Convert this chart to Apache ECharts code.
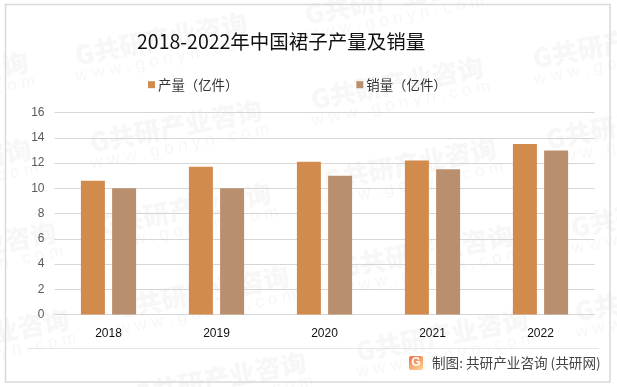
<!DOCTYPE html>
<html><head><meta charset="utf-8">
<style>html,body{margin:0;padding:0;background:#fff}#c{width:617px;height:387px}</style>
<script src="https://cdn.jsdelivr.net/npm/echarts@6/dist/echarts.min.js"></script></head>
<body><div id="c"></div>
<script>
const categories=['2018','2019','2020','2021','2022'];
const outputValues=[10.6,11.7,12.1,12.2,13.5];
const salesValues=[10,10,11,11.5,13];
const titleText='2018-2022年中国裙子产量及销量';
const sourceText='制图: 共研产业咨询 (共研网)';
const wmCentres=[[161,39],[176,126],[185,209],[203,292],[220,378],[391,-2],[397,83],[410,164],[427,251],[442,335],[619,42],[632,123],[657,211],[661,295],[-58,78],[-55,165],[-30,248],[-17,335]];
const font='"Noto Sans CJK SC","Liberation Sans",sans-serif';
const wm=[];
wmCentres.forEach(p=>{
  wm.push({type:'group',x:p[0],y:p[1],rotation:11*Math.PI/180,silent:true,z:-1,children:[
    {type:'text',style:{text:'G共研产业咨询',x:0,y:0,align:'center',verticalAlign:'middle',font:'900 26px '+font,fill:'#f7f7f7'}},
    {type:'text',style:{text:'w w w . g o n y n . c o m',x:0,y:21,align:'center',verticalAlign:'middle',font:'17px "Liberation Sans"',fill:'#f7f7f7'}}
  ]});
});
const chart=echarts.init(document.getElementById('c'),null,{renderer:'canvas'});
chart.setOption({
  animation:false,
  backgroundColor:'#fff',
  title:{text:titleText,left:137,top:32,padding:0,textStyle:{fontFamily:font,fontSize:19.5,fontWeight:400,color:'#111'}},
  legend:{top:78,left:148,itemWidth:7,itemHeight:7,itemGap:118,icon:'rect',padding:0,
    textStyle:{fontFamily:font,fontSize:13.4,color:'#333',padding:[0,0,0,-2]},data:['产量（亿件）','销量（亿件）']},
  grid:{left:54.5,width:540,top:112.5,bottom:72.5},
  xAxis:{type:'category',data:categories,axisTick:{show:false},
    axisLine:{lineStyle:{color:'#d6d6d6',width:1}},
    axisLabel:{margin:13,fontFamily:'"Liberation Sans"',fontSize:12,color:'#111'}},
  yAxis:{type:'value',min:0,max:16,interval:2,axisLine:{show:false},axisTick:{show:false},
    splitLine:{lineStyle:{color:'#d6d6d6',width:1}},
    axisLabel:{margin:10,fontFamily:'"Liberation Sans"',fontSize:12,color:'#595959'}},
  series:[
    {name:'产量（亿件）',type:'bar',data:outputValues,barWidth:24,barGap:'30%',itemStyle:{color:'#d18c4d'}},
    {name:'销量（亿件）',type:'bar',data:salesValues,barWidth:24,itemStyle:{color:'#ba8f6d'}}
  ],
  graphic:wm.concat([
    {type:'rect',shape:{x:5.5,y:4.5,width:604.5,height:377.5},style:{fill:'none',stroke:'#d9d9d9',lineWidth:1.5},silent:true},
    {type:'line',shape:{x1:27,y1:348.5,x2:599,y2:348.5},style:{stroke:'#e6e6e6',lineWidth:1},silent:true},
    {type:'rect',shape:{x:409,y:356,width:14,height:14,r:2},style:{fill:new echarts.graphic.LinearGradient(0,0,0.6,1,[{offset:0,color:'#f0703f'},{offset:1,color:'#fbc98a'}])},silent:true},
    {type:'text',style:{text:'G',x:416,y:363,align:'center',verticalAlign:'middle',font:'bold 12px "Liberation Sans"',fill:'#fff'},silent:true},
    {type:'text',style:{text:sourceText,x:432,y:363,align:'left',verticalAlign:'middle',font:'13.6px '+font,fill:'#444'},silent:true}
  ])
});
</script></body></html>
